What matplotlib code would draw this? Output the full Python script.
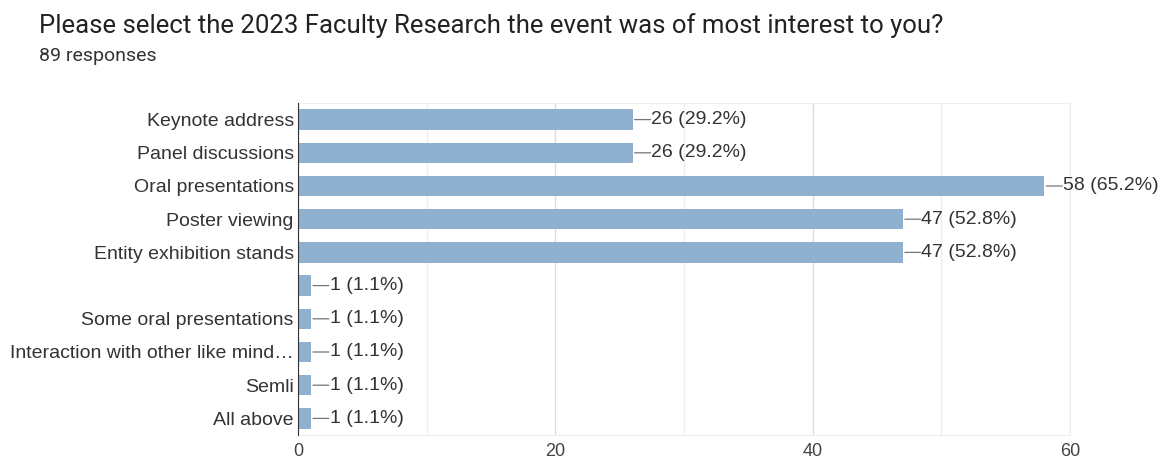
import matplotlib.pyplot as plt

# survey answers, top to bottom
categories = ['Keynote address', 'Panel discussions', 'Oral presentations',
              'Poster viewing', 'Entity exhibition stands', '',
              'Some oral presentations', 'Interaction with other like mind\u2026',
              'Semli', 'All above']
counts = [26, 26, 58, 47, 47, 1, 1, 1, 1, 1]
percents = [29.2, 29.2, 65.2, 52.8, 52.8, 1.1, 1.1, 1.1, 1.1, 1.1]
x_ticks = [0, 20, 40, 60]

plt.rcParams['font.family'] = ['Liberation Sans', 'DejaVu Sans']

fig = plt.figure(figsize=(11.64, 4.63), dpi=100)
ax = fig.add_axes([298 / 1164, 1 - 435 / 463, 772 / 1164, 332 / 463])

ypos = list(range(len(categories)))
ax.barh(ypos, counts, height=0.62, color='#8fb0ce', zorder=3)

# value labels with the little leader line
for y, c, p in zip(ypos, counts, percents):
    ax.annotate('', xy=(c, y), xytext=(13, 0), textcoords='offset points',
                arrowprops=dict(arrowstyle='-', color='#777777', lw=0.9,
                                shrinkA=0, shrinkB=1.5))
    ax.annotate('%d (%.1f%%)' % (c, p), xy=(c, y), xytext=(13.5, 0),
                textcoords='offset points', va='center', ha='left',
                fontsize=14, color='#333333')

ax.set_ylim(len(categories) - 0.5, -0.5)
ax.set_xlim(0, 60)
ax.set_yticks(ypos)
ax.set_yticklabels(categories, fontsize=14, color='#333333')
ax.set_xticks(x_ticks)
ax.set_xticklabels([str(t) for t in x_ticks], fontsize=13, color='#444444')
ax.set_xticks([10, 30, 50], minor=True)
ax.tick_params(axis='y', length=0, pad=3)
ax.tick_params(axis='x', which='both', length=0, pad=6)
ax.grid(axis='x', which='major', color='#dddddd', lw=1, zorder=0)
ax.grid(axis='x', which='minor', color='#eeeeee', lw=1, zorder=0)

for side in ['top', 'right', 'bottom']:
    ax.spines[side].set_color('#eeeeee')
ax.spines['left'].set_color('#333333')
ax.spines['left'].set_zorder(4)

fig.text(39 / 1164, 1 - 13 / 463, 'Please select the 2023 Faculty Research the event was of most interest to you?',
         fontsize=18.5, color='#222222', va='top', ha='left', family='Roboto')
fig.text(39 / 1164, 1 - 47 / 463, '89 responses', fontsize=14, color='#333333',
         va='top', ha='left', family='Roboto')

fig.savefig('out.png', dpi=100)
